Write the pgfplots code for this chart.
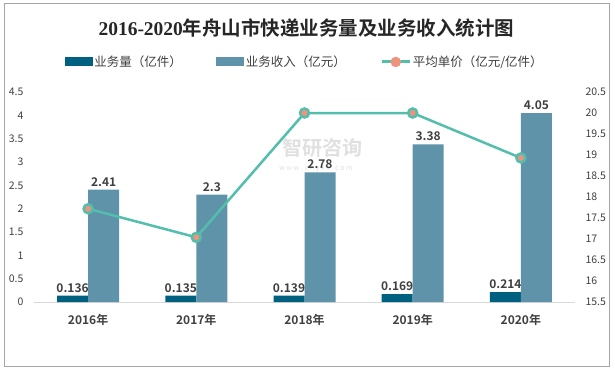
\documentclass[border=0pt]{standalone}
\usepackage{fontspec}
\usepackage{pgfplots}
\pgfplotsset{compat=1.18}
\setmainfont{Noto Sans CJK SC}[BoldFont={Noto Sans CJK SC Bold}]
\newfontfamily\serifb{Liberation Serif}[Scale=1.0]
\definecolor{cdark}{RGB}{0,96,128}
\definecolor{clight}{RGB}{95,147,169}
\definecolor{cline}{RGB}{84,190,172}
\definecolor{cmark}{RGB}{240,147,125}
\definecolor{ctext}{RGB}{64,64,64}
\definecolor{cframe}{RGB}{166,166,166}
\begin{document}
\begin{tikzpicture}[x=1pt,y=1pt]
\path (0,0) rectangle (615,370);
\draw[cframe, line width=1pt] (4.5,4) rectangle (609,366);
\node[text=black!85] at (306.5,342) {\fontsize{19.5}{22}\selectfont\bfseries{\serifb 2016-2020}年舟山市快递业务量及业务收入统计图};
\node[text=black!12] at (322,222) {\fontsize{20}{22}\selectfont\bfseries 智研咨询};
\node[text=black!12, inner sep=1pt] at (316,201) {\fontsize{7}{8}\selectfont w w w . c h y x x . c o m};
\begin{axis}[
  at={(34pt,68pt)}, anchor=south west,
  width=541pt, height=210pt, scale only axis,
  xmin=-0.5, xmax=4.5, ymin=0, ymax=4.5,
  axis x line*=bottom, axis y line*=left,
  x axis line style={draw=black!15, line width=0.8pt, -},
  y axis line style={draw=none},
  xtick={0,1,2,3,4},
  xticklabels={2016年,2017年,2018年,2019年,2020年},
  ytick={0,0.5,1,1.5,2,2.5,3,3.5,4,4.5},
  yticklabels={0,0.5,1,1.5,2,2.5,3,3.5,4,4.5},
  major tick length=0pt,
  xticklabel style={font=\fontsize{12}{14}\selectfont\bfseries, text=ctext},
  yticklabel style={font=\fontsize{10.5}{12}\selectfont, text=ctext},
  xticklabel shift=9pt, yticklabel shift=7pt,
  ybar=0pt, bar width=31pt,
  nodes near coords,
  point meta=explicit symbolic,
  every node near coord/.append style={font=\fontsize{12}{14}\selectfont\bfseries, text=ctext, inner sep=3pt},
  legend columns=3,
  legend style={draw=none, fill=none, at={(0.5,1.143)}, anchor=center,
    font=\fontsize{12.5}{14}\selectfont, text=ctext,
    /tikz/every even column/.append style={column sep=33pt},
    nodes={inner sep=1.5pt}},
  legend cell align=left,
]
\addplot[fill=cdark, draw=none, area legend,
  legend image code/.code={\fill[cdark] (0pt,-4.5pt) rectangle (28pt,4.5pt);}]
  coordinates {(0,0.136) [0.136] (1,0.135) [0.135] (2,0.139) [0.139] (3,0.169) [0.169] (4,0.214) [0.214]};
\addlegendentry{业务量（亿件）}
\addplot[fill=clight, draw=none, area legend,
  legend image code/.code={\fill[clight] (0pt,-4.5pt) rectangle (28pt,4.5pt);}]
  coordinates {(0,2.41) [2.41] (1,2.3) [2.3] (2,2.78) [2.78] (3,3.38) [3.38] (4,4.05) [4.05]};
\addlegendentry{业务收入（亿元）}
\addlegendimage{legend image code/.code={\draw[cline, line width=3pt] (0pt,0pt) -- (28pt,0pt); \fill[cmark] (14pt,0pt) circle (5pt);}}
\addlegendentry{平均单价（亿元/亿件）}
\end{axis}
\begin{axis}[
  at={(34pt,68pt)}, anchor=south west,
  width=541pt, height=210pt, scale only axis,
  xmin=-0.5, xmax=4.5, ymin=15.5, ymax=20.5,
  axis x line=none, axis y line*=right,
  y axis line style={draw=none},
  ytick={15.5,16,16.5,17,17.5,18,18.5,19,19.5,20,20.5},
  yticklabels={15.5,16,16.5,17,17.5,18,18.5,19,19.5,20,20.5},
  major tick length=0pt,
  yticklabel style={font=\fontsize{10.5}{12}\selectfont, text=ctext},
  yticklabel shift=7pt,
]
\addplot[cline, line width=2.5pt, mark=*, mark size=4.5pt, mark options={fill=cmark, draw=none}]
  coordinates {(0,17.72) (1,17.04) (2,20.0) (3,20.0) (4,18.93)};
\end{axis}
\end{tikzpicture}
\end{document}
